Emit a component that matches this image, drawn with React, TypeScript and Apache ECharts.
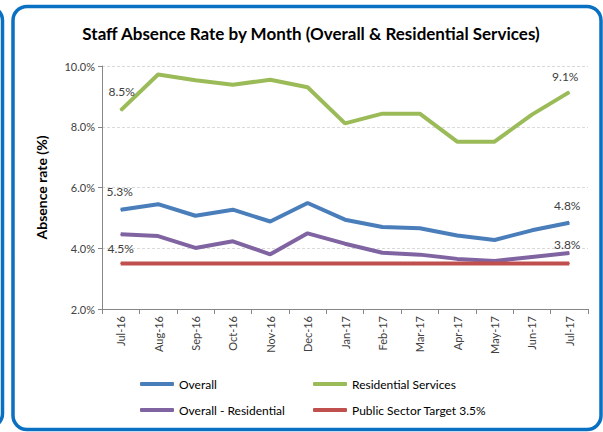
import React, { useEffect, useRef } from "react";
import * as echarts from "echarts";

const months = ["Jul-16", "Aug-16", "Sep-16", "Oct-16", "Nov-16", "Dec-16", "Jan-17", "Feb-17", "Mar-17", "Apr-17", "May-17", "Jun-17", "Jul-17"];
const overall = [5.27, 5.45, 5.07, 5.27, 4.88, 5.49, 4.94, 4.70, 4.66, 4.42, 4.27, 4.59, 4.84];
const residential = [8.54, 9.72, 9.53, 9.38, 9.55, 9.30, 8.11, 8.43, 8.43, 7.51, 7.51, 8.40, 9.14];
const overallMinusResidential = [4.46, 4.40, 4.01, 4.23, 3.80, 4.49, 4.15, 3.85, 3.79, 3.65, 3.58, 3.71, 3.84];
const target = [3.5, 3.5, 3.5, 3.5, 3.5, 3.5, 3.5, 3.5, 3.5, 3.5, 3.5, 3.5, 3.5];
const yTicks = [2, 4, 6, 8, 10];

const FONT = "Lato, 'Open Sans', sans-serif";
const TXT = "#404040";

type LabelCfg = { position: "top" | "bottom"; distance: number; offset: [number, number] };

function withEndLabels(values: number[], first: LabelCfg, last: LabelCfg) {
  return values.map((v, i) => {
    const cfg = i === 0 ? first : i === values.length - 1 ? last : null;
    if (!cfg) return v;
    return {
      value: v,
      label: {
        show: true,
        position: cfg.position,
        distance: cfg.distance,
        offset: cfg.offset,
        formatter: (p: any) => `${Number(p.value).toFixed(1)}%`,
        fontFamily: FONT,
        fontSize: 12,
        color: TXT,
      },
    };
  });
}

export default function App() {
  const ref = useRef<HTMLDivElement>(null);
  useEffect(() => {
    document.body.style.margin = "0";
    const chart = echarts.init(ref.current!, null, { renderer: "svg" });
    const lineSeries = (name: string, data: any[], color: string) => ({
      name,
      type: "line",
      data,
      symbol: "circle",
      symbolSize: 1,
      showSymbol: true,
      lineStyle: { color, width: 4 },
      itemStyle: { color },
      label: { show: false },
      emphasis: { disabled: true },
    });
    const legendItem = (name: string, left: number, top: number) => ({
      data: [{ name, icon: "roundRect" }],
      left,
      top,
      padding: 0,
      itemWidth: 34,
      itemHeight: 4,
      textStyle: { fontFamily: FONT, fontSize: 12, color: "#000" },
    });
    chart.setOption({
      animation: false,
      backgroundColor: "#fff",
      textStyle: { fontFamily: FONT },
      grid: { left: 102, right: 15, top: 66, bottom: 123 },
      graphic: [
        {
          type: "rect",
          shape: { x: 13, y: 6.5, width: 588, height: 423, r: 14 },
          style: { fill: "none", stroke: "#0a70c2", lineWidth: 3.5 },
          silent: true,
        },
        {
          type: "rect",
          shape: { x: -40, y: 6.5, width: 42.5, height: 421, r: 14 },
          style: { fill: "none", stroke: "#0a70c2", lineWidth: 3.5 },
          silent: true,
        },
        {
          type: "text",
          x: 311,
          y: 33,
          style: {
            text: "Staff Absence Rate by Month (Overall & Residential Services)",
            fontFamily: FONT,
            fontWeight: "bold",
            fontSize: 17,
            fill: "#000",
            textAlign: "center",
            textVerticalAlign: "middle",
          },
        },
      ],
      legend: [
        legendItem("Overall", 140, 378),
        legendItem("Residential Services", 313, 378),
        legendItem("Overall - Residential", 140, 404),
        legendItem("Public Sector Target 3.5%", 313, 404),
      ],
      xAxis: {
        type: "category",
        data: months,
        boundaryGap: true,
        axisLine: { lineStyle: { color: "#868686", width: 1 } },
        axisTick: { show: true, alignWithLabel: false, length: 5, lineStyle: { color: "#868686" } },
        axisLabel: { rotate: 90, fontFamily: FONT, fontSize: 11, color: TXT, margin: 7, interval: 0 },
        splitLine: { show: false },
      },
      yAxis: {
        type: "value",
        min: yTicks[0],
        max: yTicks[yTicks.length - 1],
        interval: 2,
        name: "Absence rate (%)",
        nameLocation: "middle",
        nameRotate: 90,
        nameGap: 54,
        nameTextStyle: { fontFamily: FONT, fontWeight: "bold", fontSize: 14, color: "#000" },
        axisLine: { show: true, lineStyle: { color: "#868686", width: 1 } },
        axisTick: { show: true, length: 4, lineStyle: { color: "#868686" } },
        axisLabel: {
          formatter: (v: number) => `${v.toFixed(1)}%`,
          fontFamily: FONT,
          fontSize: 11,
          color: TXT,
          margin: 7,
        },
        splitLine: { show: true, lineStyle: { color: "#d9d9d9", type: [3, 2], width: 1 } },
      },
      series: [
        lineSeries(
          "Overall",
          withEndLabels(
            overall,
            { position: "top", distance: 12, offset: [-1, 0] },
            { position: "top", distance: 11, offset: [-2, 0] }
          ),
          "#4a7ebb"
        ),
        lineSeries(
          "Residential Services",
          withEndLabels(
            residential,
            { position: "top", distance: 12, offset: [1, 0] },
            { position: "top", distance: 9, offset: [-4, 0] }
          ),
          "#9bbb59"
        ),
        lineSeries(
          "Overall - Residential",
          withEndLabels(
            overallMinusResidential,
            { position: "bottom", distance: 8, offset: [0, 0] },
            { position: "top", distance: 2, offset: [-2, 0] }
          ),
          "#8064a2"
        ),
        lineSeries("Public Sector Target 3.5%", target, "#c0504d"),
      ],
    });
    return () => chart.dispose();
  }, []);
  return <div ref={ref} style={{ width: 603, height: 432 }} />;
}
